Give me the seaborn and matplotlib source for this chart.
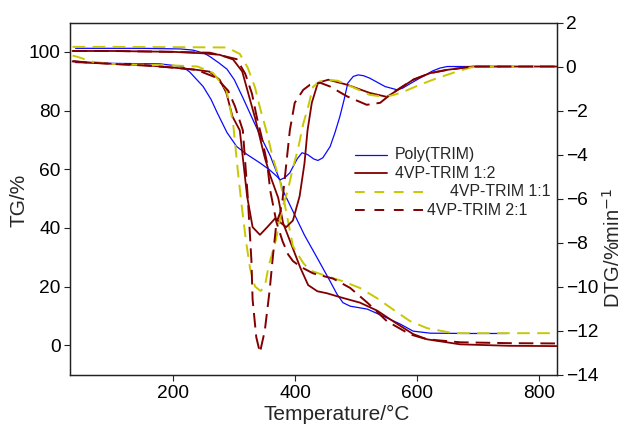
import numpy as np
import pandas as pd
import matplotlib
matplotlib.use("Agg")
import matplotlib.pyplot as plt
from matplotlib.lines import Line2D
import seaborn as sns

# ---------------- data ----------------
# Poly(TRIM)
poly_tg_T = [40, 80, 150, 211, 232, 250, 260, 275, 288, 300, 314, 328, 339, 359, 375, 380, 396, 415, 436,
             457, 468, 478, 490, 518, 544, 572, 593, 621, 680, 747]
poly_tg = [101.2, 101.2, 101.2, 101.0, 100.6, 99.6, 98.4, 96.2, 94.1, 90.5, 84.4, 78.0, 73.0, 64.5, 56.0,
           52.6, 45.7, 37.5, 29.7, 21.8, 17.5, 14.5, 13.3, 12.3, 9.9, 7.2, 4.8, 4.1, 4.0, 4.0]
poly_dtg_T = [40, 80, 178, 200, 215, 227, 249, 262, 272, 288, 304, 321, 342, 358, 370, 375, 383, 391, 403,
              411, 420, 430, 437, 445, 457, 465, 473, 480, 486, 495, 503, 512, 522, 547, 567, 576, 593,
              609, 625, 637, 649, 700, 747]
poly_dtg = [0.18, 0.15, 0.12, 0.05, 0.0, -0.25, -0.91, -1.5, -2.1, -3.0, -3.64, -4.0, -4.38, -4.7, -5.0,
            -5.15, -5.05, -4.83, -4.2, -3.92, -4.0, -4.2, -4.27, -4.15, -3.64, -3.0, -2.27, -1.5, -0.75,
            -0.45, -0.38, -0.42, -0.53, -0.91, -1.06, -0.98, -0.7, -0.45, -0.2, -0.07, 0.0, 0.0, 0.0]

# 4VP-TRIM 1:2
r12_tg_T = [35, 100, 200, 249, 276, 298, 313, 322, 334, 342, 350, 359, 372, 380, 396, 408, 421, 436, 452,
            473, 506, 534, 560, 593, 616, 670, 750, 828]
r12_tg = [100.3, 100.3, 100.0, 99.5, 99.0, 97.4, 93.3, 86.5, 77.5, 70.7, 63.9, 57.7, 50.2, 41.6, 33.0,
          26.5, 20.5, 18.4, 17.7, 16.4, 14.5, 11.8, 8.2, 3.8, 2.0, 0.3, -0.2, -0.3]
r12_dtg_T = [35, 100, 160, 200, 238, 259, 276, 287, 297, 309, 321, 330, 342, 354, 367, 385, 396, 407, 415,
             420, 427, 437, 454, 485, 522, 550, 568, 593, 621, 649, 691, 760, 828]
r12_dtg = [0.23, 0.12, 0.05, -0.05, -0.15, -0.23, -0.6, -1.2, -2.27, -2.9, -5.9, -7.3, -7.65, -7.3, -6.9,
           -7.3, -7.0, -5.9, -4.4, -2.9, -1.65, -0.74, -0.6, -0.83, -1.2, -1.38, -1.06, -0.6, -0.3, -0.15,
           0.0, 0.0, 0.0]

# 4VP-TRIM 1:1
r11_tg_T = [35, 100, 200, 288, 309, 322, 334, 342, 354, 363, 375, 380, 388, 396, 413, 424, 452, 478, 506,
            534, 560, 588, 616, 659, 750, 828]
r11_tg = [101.7, 101.7, 101.6, 101.5, 99.3, 94.6, 87.8, 81.0, 72.0, 63.9, 55.9, 50.9, 42.3, 33.8, 28.0,
          25.5, 23.5, 21.8, 19.5, 16.0, 12.2, 8.2, 5.8, 4.1, 4.1, 4.1]
r11_dtg_T = [35, 50, 63, 100, 150, 200, 240, 265, 287, 298, 306, 311, 319, 326, 334, 343, 350, 356, 368,
             378, 388, 396, 404, 413, 421, 429, 440, 454, 470, 485, 503, 522, 547, 560, 576, 604, 632,
             665, 686, 700, 828]
r11_dtg = [0.5, 0.38, 0.23, 0.12, 0.08, 0.05, 0.0, -0.29, -1.06, -2.56, -4.8, -6.06, -7.9, -9.2, -10.0,
           -10.2, -10.0, -9.1, -7.9, -6.5, -5.6, -4.6, -3.8, -2.6, -1.83, -0.92, -0.68, -0.6, -0.65,
           -0.83, -1.05, -1.29, -1.38, -1.3, -1.16, -0.83, -0.53, -0.23, -0.05, 0.0, 0.0]

# 4VP-TRIM 2:1
r21_tg_T = [35, 100, 200, 260, 304, 318, 329, 337, 345, 354, 359, 369, 379, 388, 396, 408, 429, 462, 490,
            518, 550, 588, 616, 670, 750, 828]
r21_tg = [100.3, 100.3, 100.0, 99.7, 97.5, 92.5, 85.7, 77.6, 70.8, 61.8, 52.6, 42.0, 35.5, 31.0, 28.7,
          26.8, 24.5, 22.7, 19.5, 14.5, 8.2, 3.7, 2.0, 1.0, 0.7, 0.6]
r21_dtg_T = [35, 60, 100, 150, 200, 238, 270, 290, 301, 314, 322, 328, 330, 336, 342, 350, 358, 363, 369,
             375, 379, 391, 399, 413, 424, 441, 457, 485, 517, 539, 555, 572, 593, 621, 649, 691, 760, 828]
r21_dtg = [0.25, 0.18, 0.12, 0.05, -0.05, -0.15, -0.5, -1.1, -1.8, -2.9, -5.9, -8.8, -10.6, -12.3, -13.0,
           -12.0, -10.15, -8.7, -7.1, -6.66, -6.06, -2.9, -1.65, -1.06, -0.83, -0.74, -0.91, -1.36, -1.74,
           -1.65, -1.29, -0.97, -0.6, -0.3, -0.15, 0.0, 0.0, 0.0]

series_names = ["Poly(TRIM)", "4VP-TRIM 1:2", "4VP-TRIM 1:1", "4VP-TRIM 2:1"]
x_ticks = [200, 400, 600, 800]
tg_ticks = [0, 20, 40, 60, 80, 100]
dtg_ticks = [2, 0, -2, -4, -6, -8, -10, -12, -14]

# ---------------- style ----------------
sns.set_style("ticks")
plt.rcParams["font.family"] = ["Liberation Sans", "DejaVu Sans"]
plt.rcParams["axes.linewidth"] = 0.9
plt.rcParams["axes.edgecolor"] = "#222222"

BLUE = "#0a0aff"
MAROON = "#800000"
YELLOW = "#c8c800"
DASH_Y = (0, (6.5, 3.8))
DASH_M = (0, (7.5, 3.6))

fig = plt.figure(figsize=(6.28, 4.33), dpi=100)
ax = fig.add_axes([0.1107, 0.135, 0.7755, 0.813])
ax2 = ax.twinx()

styles = [
    (poly_tg_T, poly_tg, poly_dtg_T, poly_dtg, BLUE, "-", 0.9),
    (r12_tg_T, r12_tg, r12_dtg_T, r12_dtg, MAROON, "-", 1.3),
    (r11_tg_T, r11_tg, r11_dtg_T, r11_dtg, YELLOW, DASH_Y, 1.4),
    (r21_tg_T, r21_tg, r21_dtg_T, r21_dtg, MAROON, DASH_M, 1.4),
]
for tT, tg, dT, dtg, col, ls, lw in styles:
    sns.lineplot(x=tT, y=tg, ax=ax, color=col, linestyle=ls, linewidth=lw, sort=False)
    sns.lineplot(x=dT, y=dtg, ax=ax2, color=col, linestyle=ls, linewidth=lw, sort=False)

ax.set_xlim(30, 828)
ax.set_ylim(-10, 110)
ax2.set_ylim(-14, 2)
ax.set_xticks(x_ticks)
ax.set_yticks(tg_ticks)
ax2.set_yticks(dtg_ticks)

for a in (ax, ax2):
    a.tick_params(direction="out", length=4.5, width=0.8, labelsize=13.8, pad=2, colors="#222222",
                  labelcolor="black")
ax.tick_params(axis="x", pad=3)
for s in ax2.spines.values():
    s.set_visible(True)

ax.set_xlabel("Temperature/°C", fontsize=15)
ax.set_ylabel("TG/%", fontsize=15)
ax2.set_ylabel("DTG/%min$^{-1}$", fontsize=14.5)
ax.xaxis.set_label_coords(0.549, -0.085)
ax.yaxis.set_label_coords(-0.085, 0.496)
ax2.yaxis.set_label_coords(1.093, 0.36)

# ---------------- legend (hand placed like the original) ----------------
W, H = 628.0, 433.0
rows = [
    (155, 355, 387, 395, BLUE, "-", 0.9),
    (173, 355, 387, 395, MAROON, "-", 1.3),
    (192, 355, 425, 450, YELLOW, (0, (5, 5)), 1.4),
    (210, 355, 425, 427, MAROON, (0, (5, 5)), 1.4),
]
for (py, x0, x1, tx, col, ls, lw), name in zip(rows, series_names):
    fig.add_artist(Line2D([x0 / W, x1 / W], [1 - py / H, 1 - py / H], color=col, linestyle=ls,
                          linewidth=lw, transform=fig.transFigure))
    fig.text(tx / W, 1 - py / H, name, fontsize=11.4, va="center", ha="left")

fig.savefig("out.png", dpi=100)
